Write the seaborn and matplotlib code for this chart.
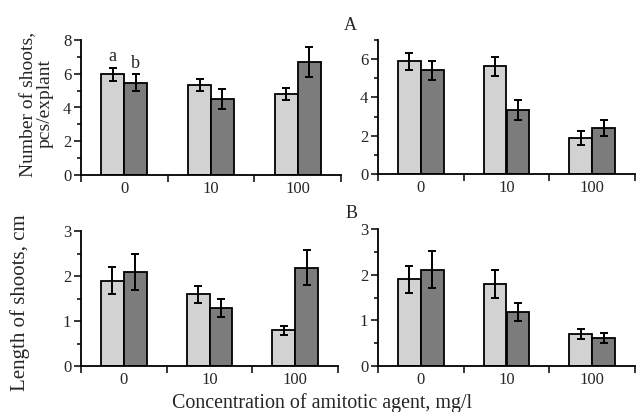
import matplotlib
matplotlib.use("Agg")
import matplotlib.pyplot as plt
from matplotlib.ticker import FixedLocator
import seaborn as sns
import pandas as pd

categories = ["0", "10", "100"]
series = ["light", "dark"]

shoots_left_light = [5.97, 5.34, 4.78]
shoots_left_dark = [5.46, 4.52, 6.69]
shoots_left_light_err = [0.38, 0.36, 0.35]
shoots_left_dark_err = [0.5, 0.6, 0.9]

shoots_right_light = [5.88, 5.62, 1.9]
shoots_right_dark = [5.41, 3.34, 2.4]
shoots_right_light_err = [0.43, 0.5, 0.36]
shoots_right_dark_err = [0.5, 0.5, 0.4]

length_left_light = [1.89, 1.59, 0.8]
length_left_dark = [2.09, 1.3, 2.18]
length_left_light_err = [0.3, 0.18, 0.1]
length_left_dark_err = [0.4, 0.2, 0.39]

length_right_light = [1.9, 1.8, 0.7]
length_right_dark = [2.11, 1.18, 0.61]
length_right_light_err = [0.3, 0.3, 0.1]
length_right_dark_err = [0.4, 0.2, 0.11]

letters = ["a", "b"]

sns.set_theme(style="ticks")
plt.rcParams["font.family"] = ["Liberation Serif", "DejaVu Serif"]

colors = {"light": "#d2d2d2", "dark": "#7c7c7c"}

fig = plt.figure(figsize=(6.36, 4.12), dpi=100)

def panel(rect, light, dark, lerr, derr, ymax, major, minor, letter=False):
    ax = fig.add_axes(rect)
    df = pd.DataFrame({
        "conc": categories * 2,
        "value": light + dark,
        "series": ["light"] * 3 + ["dark"] * 3,
    })
    sns.barplot(data=df, x="conc", y="value", hue="series", order=categories,
                hue_order=series, palette=colors, width=0.53, edgecolor="black",
                linewidth=1.3, errorbar=None, legend=False, ax=ax, saturation=1)
    errs = lerr + derr
    vals = light + dark
    patches = [p for p in ax.patches if p.get_height() > 0]
    patches = sorted(patches, key=lambda p: p.get_x())
    lref = matplotlib.colors.to_rgba(colors["light"])[0]
    light_p = [p for p in patches if abs(p.get_facecolor()[0] - lref) < 0.02]
    dark_p = [p for p in patches if p not in light_p]
    ordered = light_p + dark_p
    for p, v, e in zip(ordered, vals, errs):
        cx = p.get_x() + p.get_width() / 2
        ax.errorbar(cx, v, yerr=e, color="black", lw=1.4, capsize=3, capthick=1.4)
    if letter:
        for p, v, e, t in zip([light_p[0], dark_p[0]], [vals[0], vals[3]], [errs[0], errs[3]], letters):
            ax.text(p.get_x() + p.get_width() / 2, v + e + 0.15, t, ha="center", va="bottom",
                    fontsize=13)
    ax.set_xlim(-0.5, 2.5)
    ax.set_ylim(0, ymax)
    ax.yaxis.set_major_locator(FixedLocator(major))
    ax.yaxis.set_minor_locator(FixedLocator(minor))
    ax.xaxis.set_major_locator(FixedLocator([0, 1, 2]))
    ax.xaxis.set_minor_locator(FixedLocator([-0.5, 0.5, 1.5, 2.5]))
    ax.set_xticklabels(categories)
    ax.tick_params(axis="x", which="major", length=0, pad=4.5, labelsize=12)
    ax.tick_params(axis="x", which="minor", length=5, width=1.3, direction="out")
    ax.tick_params(axis="y", which="major", length=5, width=1.3, pad=2, labelsize=12)
    ax.tick_params(axis="y", which="minor", length=3, width=1.3)
    for s in ["top", "right"]:
        ax.spines[s].set_visible(False)
    for s in ["left", "bottom"]:
        ax.spines[s].set_linewidth(1.3)
        ax.spines[s].set_color("black")
    ax.set_xlabel("")
    ax.set_ylabel("")
    ax.set_facecolor("white")
    return ax

panel([81/636, 1-175/412, 260/636, 135/412], shoots_left_light, shoots_left_dark,
      shoots_left_light_err, shoots_left_dark_err, 8, [0, 2, 4, 6, 8], [1, 3, 5, 7], letter=True)
panel([378/636, 1-174/412, 257/636, 134/412], shoots_right_light, shoots_right_dark,
      shoots_right_light_err, shoots_right_dark_err, 7, [0, 2, 4, 6], [1, 3, 5, 7])
panel([81/636, 1-366/412, 257/636, 135/412], length_left_light, length_left_dark,
      length_left_light_err, length_left_dark_err, 3, [0, 1, 2, 3], [0.5, 1.5, 2.5])
panel([378/636, 1-366/412, 257/636, 137/412], length_right_light, length_right_dark,
      length_right_light_err, length_right_dark_err, 3, [0, 1, 2, 3], [0.5, 1.5, 2.5])

fig.text(350/636, 1-25/412, "A", ha="center", va="center", fontsize=13)
fig.text(352/636, 1-214/412, "B", ha="center", va="center", fontsize=13)
fig.text(37/636, 1-104/412, "Number of shoots,\npcs/explant", rotation=90, ha="center",
         va="center", multialignment="center", fontsize=14, linespacing=1.0)
fig.text(20/636, 1-303/412, "Length of shoots, cm", rotation=90, ha="center",
         va="center", fontsize=15)
fig.text(322/636, 1-403/412, "Concentration of amitotic agent, mg/l", ha="center",
         va="center", fontsize=14.4)

fig.savefig("out.png", dpi=100, facecolor="white")
